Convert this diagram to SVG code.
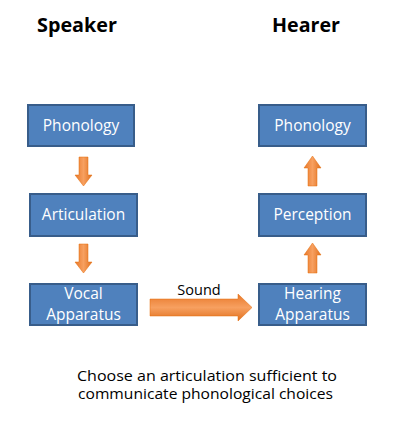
<svg xmlns="http://www.w3.org/2000/svg" width="400" height="423" viewBox="0 0 400 423">
<defs>
<linearGradient id="gv" x1="0" y1="0" x2="1" y2="0">
<stop offset="0" stop-color="#E8782A"/><stop offset="0.5" stop-color="#F7A060"/><stop offset="1" stop-color="#E0701E"/>
</linearGradient>
<linearGradient id="gh" x1="0" y1="0" x2="0" y2="1">
<stop offset="0" stop-color="#E8782A"/><stop offset="0.5" stop-color="#F7A060"/><stop offset="1" stop-color="#E0701E"/>
</linearGradient>
</defs>
<style>
.box{fill:#4F81BD;stroke:#385D8A;stroke-width:2}
.lbl{font-family:"Open Sans","Liberation Sans",sans-serif;font-size:15.5px;fill:#FFFFFF;text-anchor:middle}
.title{font-family:"Open Sans","Liberation Sans",sans-serif;font-size:19px;font-weight:bold;fill:#000000}
.txt{font-family:"Open Sans","Liberation Sans",sans-serif;font-size:14.5px;fill:#000000}
.av{fill:url(#gv);stroke:#E46C0A;stroke-width:0.5}
.ah{fill:url(#gh);stroke:#E46C0A;stroke-width:0.5}
</style>
<rect width="400" height="423" fill="#FFFFFF"/>
<text class="title" x="37" y="32" textLength="80" lengthAdjust="spacingAndGlyphs">Speaker</text>
<text class="title" x="272" y="32" textLength="68" lengthAdjust="spacingAndGlyphs">Hearer</text>
<g id="s-phonology"><rect class="box" x="28" y="105" width="106" height="41"/><text class="lbl" x="81" y="131">Phonology</text></g>
<g id="s-articulation"><rect class="box" x="30" y="194" width="107" height="42"/><text class="lbl" x="83.5" y="220">Articulation</text></g>
<g id="s-vocal"><rect class="box" x="30" y="284" width="107" height="41"/><text class="lbl" x="83.5" y="299">Vocal</text><text class="lbl" x="83.5" y="320">Apparatus</text></g>
<g id="h-phonology"><rect class="box" x="259" y="105" width="107" height="41"/><text class="lbl" x="312.5" y="131">Phonology</text></g>
<g id="h-perception"><rect class="box" x="259" y="194" width="107" height="42"/><text class="lbl" x="312.5" y="220">Perception</text></g>
<g id="h-hearing"><rect class="box" x="259" y="284" width="107" height="41"/><text class="lbl" x="312.5" y="299">Hearing</text><text class="lbl" x="312.5" y="320">Apparatus</text></g>
<g id="connectors">
<polygon class="av" points="79,157 88,157 88,175 92,175 83.5,186 75,175 79,175"/>
<polygon class="av" points="79,244 88,244 88,262 92,262 83.5,273 75,262 79,262"/>
<polygon class="av" points="308,186 317,186 317,168 321,168 312.5,156 304,168 308,168"/>
<polygon class="av" points="308,273 317,273 317,255 321,255 312.5,243 304,255 308,255"/>
<polygon class="ah" points="150,299 238,299 238,294 252,307.5 238,321 238,316 150,316"/>
<text class="txt" x="199" y="295" text-anchor="middle">Sound</text>
</g>
<text class="txt" x="77" y="381" textLength="260" lengthAdjust="spacingAndGlyphs">Choose an articulation sufficient to</text>
<text class="txt" x="78" y="399" textLength="255" lengthAdjust="spacingAndGlyphs">communicate phonological choices</text>
</svg>
